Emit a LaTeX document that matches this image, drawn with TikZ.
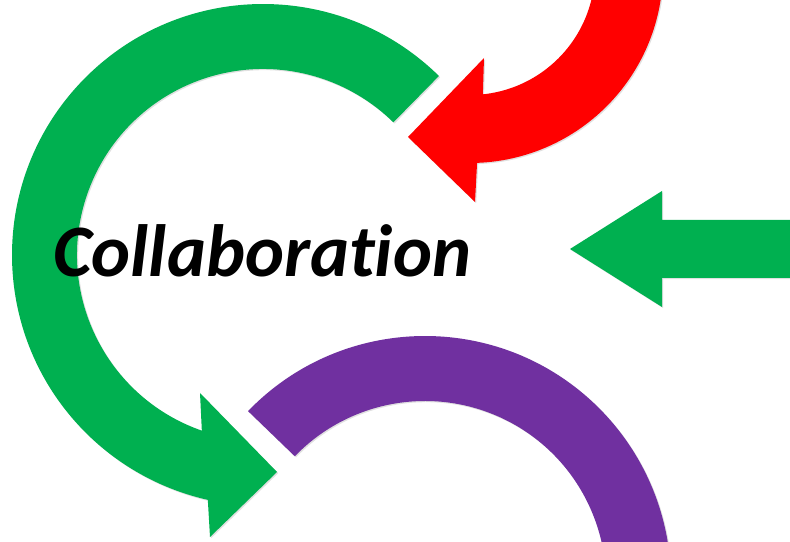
\documentclass[tikz,border=0pt]{standalone}
\usepackage{fontspec}
\setmainfont{Carlito}[Ligatures=NoCommon]
\usetikzlibrary{calc,shadows}
\definecolor{arcgreen}{HTML}{00B050}
\definecolor{arcred}{HTML}{FF0000}
\definecolor{arcpurple}{HTML}{7030A0}
\tikzset{
  softshadow/.style={drop shadow={shadow xshift=1.2pt, shadow yshift=-1.2pt, fill=black, opacity=0.12}},
  band/.style={fill=#1, softshadow},
  title/.style={font=\fontsize{74}{80}\selectfont\bfseries\itshape, inner sep=0pt, text=black}
}
\begin{document}
\begin{tikzpicture}[x=1pt,y=1pt]
\useasboundingbox (0,0) rectangle (790,541);
\clip (0,0) rectangle (790,541);
\fill[white] (0,0) rectangle (790,541);

% centres of the three curved bands
\coordinate (gc) at (263,286);
\coordinate (rc) at (470,571);
\coordinate (pc) at (425,-41);

% purple open arc (no head)
\path[band=arcpurple]
  ($(pc)+(136:246)$) arc[start angle=136, end angle=-20, radius=246]
  -- ($(pc)+(-20:181)$) arc[start angle=-20, end angle=136, radius=181] -- cycle;

% big green circular arrow, head at the bottom
\path[band=arcgreen]
  ($(gc)+(45.5:251)$) arc[start angle=45.5, end angle=257.3, radius=251]
  -- (210,4) -- (277,69) -- (200,148)
  -- ($(gc)+(250.8:186)$) arc[start angle=250.8, end angle=45.5, radius=186] -- cycle;

% red curved arrow coming in from the top
\path[band=arcred]
  ($(rc)+(20:193)$) arc[start angle=20, end angle=-87.9, radius=193]
  -- (475,339) -- (408,404) -- (484,483)
  -- ($(rc)+(-84.1:125)$) arc[start angle=-84.1, end angle=20, radius=125] -- cycle;

% straight green arrow pointing left
\path[band=arcgreen]
  (570,292) -- (662,350) -- (662,321) -- (800,321) -- (800,263)
  -- (662,263) -- (662,234) -- cycle;

\node[title, anchor=base west] (collab) at (53,264) {Collaboration};
\end{tikzpicture}
\end{document}
